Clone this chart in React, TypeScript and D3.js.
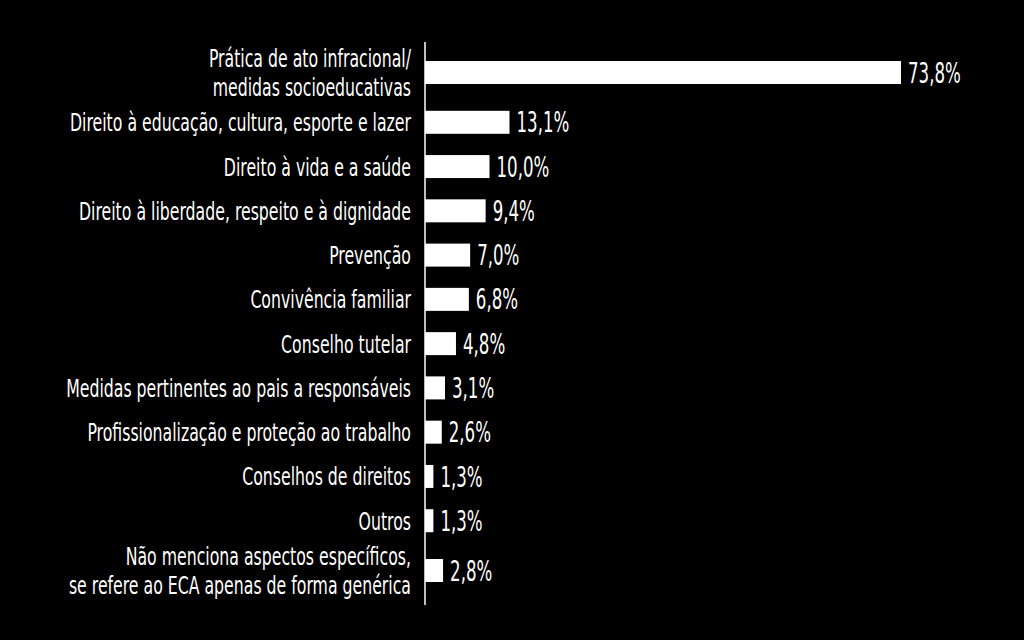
import React from "react";
import * as d3 from "d3";

const categories: string[][] = [
  ["Prática de ato infracional/", "medidas socioeducativas"],
  ["Direito à educação, cultura, esporte e lazer"],
  ["Direito à vida e a saúde"],
  ["Direito à liberdade, respeito e à dignidade"],
  ["Prevenção"],
  ["Convivência familiar"],
  ["Conselho tutelar"],
  ["Medidas pertinentes ao pais a responsáveis"],
  ["Profissionalização e proteção ao trabalho"],
  ["Conselhos de direitos"],
  ["Outros"],
  ["Não menciona aspectos específicos,", "se refere ao ECA apenas de forma genérica"],
];
const values: number[] = [73.8, 13.1, 10.0, 9.4, 7.0, 6.8, 4.8, 3.1, 2.6, 1.3, 1.3, 2.8];
const valueLabels: string[] = ["73,8%", "13,1%", "10,0%", "9,4%", "7,0%", "6,8%", "4,8%", "3,1%", "2,6%", "1,3%", "1,3%", "2,8%"];

const W = 1024;
const H = 640;
const FONT = "'DejaVu Sans Condensed', 'DejaVu Sans', sans-serif";

export default function App() {
  // layout slots: two-line categories take a little extra room
  const slots: number[] = [];
  let acc = 0;
  categories.forEach((c, i) => {
    if (i > 0) acc += 1 + (c.length > 1 ? 0.125 : 0) + (categories[i - 1].length > 1 ? 0.125 : 0);
    slots.push(acc);
  });
  const y = d3.scaleLinear().domain([0, acc]).range([72.5, 570.5]);
  const x = d3.scaleLinear().domain([0, 73.8]).range([425, 901]);
  const barH = 23;
  const lineH = 28.5;

  return (
    <svg
      width={W}
      height={H}
      style={{ position: "absolute", left: 0, top: 0, background: "#000" }}
    >
      <rect x={0} y={0} width={W} height={H} fill="#000" />
      {categories.map((lines, i) => {
        const cy = y(slots[i]);
        return (
          <g key={i}>
            <rect x={x(0)} y={cy - barH / 2} width={x(values[i]) - x(0)} height={barH} fill="#fff" />
            <g transform={`translate(${x(values[i]) + 7},${cy}) scale(0.66,1)`}>
              <text x={0} y={0} dy="0.36em" fill="#fff" fontFamily={FONT} fontSize={28}>
                {valueLabels[i]}
              </text>
            </g>
            {lines.map((ln, j) => (
              <g key={j} transform={`translate(411,${cy + (j - (lines.length - 1) / 2) * lineH}) scale(0.7,1)`}>
                <text x={0} y={0} dy="0.36em" textAnchor="end" fill="#fff" fontFamily={FONT} fontSize={25}>
                  {ln}
                </text>
              </g>
            ))}
          </g>
        );
      })}
      <line x1={x(0)} x2={x(0)} y1={42} y2={605} stroke="#fff" strokeWidth={1.5} />
    </svg>
  );
}
